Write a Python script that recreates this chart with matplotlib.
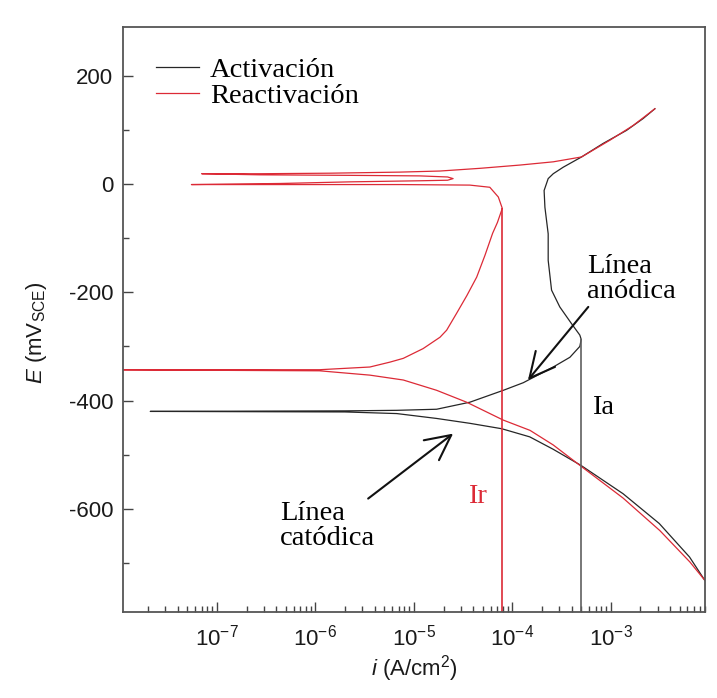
import matplotlib
matplotlib.use("Agg")
import matplotlib.pyplot as plt
from matplotlib.ticker import LogLocator, MultipleLocator

plt.rcParams['font.family'] = ['Liberation Sans', 'DejaVu Sans']
plt.rcParams['mathtext.fontset'] = 'custom'
plt.rcParams['mathtext.rm'] = 'Liberation Sans'
plt.rcParams['mathtext.it'] = 'Liberation Sans:italic'
plt.rcParams['axes.unicode_minus'] = False

# Curva de activacion (barrido catodico -> anodico)
act_i = [9.0e-3, 6.3e-3, 3.1e-3, 1.33e-3, 5.0e-4, 2.6e-4, 1.5e-4, 7.8e-5, 3.7e-5,
         1.7e-5, 6.7e-6, 2.0e-6, 2.1e-8, 2.0e-6, 6.7e-6, 1.7e-5, 3.7e-5, 8.1e-5,
         1.29e-4, 2.6e-4, 3.84e-4, 4.84e-4, 5.0e-4, 4.84e-4, 3.99e-4, 3.03e-4,
         2.5e-4, 2.31e-4, 2.31e-4, 2.14e-4, 2.1e-4, 2.31e-4, 2.6e-4, 3.28e-4,
         5.04e-4, 8.36e-4, 1.44e-3, 2.13e-3, 2.8e-3]
act_E = [-732, -689, -627, -572, -520, -490, -467, -452, -442,
         -433, -424, -421, -420, -419, -418, -416, -403, -381,
         -367, -338, -320, -300, -287, -279, -258, -227,
         -196, -141, -92, -43, -12, 10, 19, 31,
         50, 75, 99, 121, 139]

# Curva de reactivacion (barrido de retorno)
react_i = [2.8e-3, 1.68e-3, 9.8e-4, 5.04e-4, 2.6e-4, 1.19e-4, 4.7e-5, 1.84e-5,
           7.2e-6, 1.4e-6, 2.7e-7, 7.0e-8, 2.7e-7, 2.24e-6, 1.15e-5, 2.2e-5,
           2.5e-5, 2.2e-5, 1.15e-5, 2.24e-6, 4.4e-7, 5.5e-8, 4.4e-7, 7.2e-6,
           3.7e-5, 5.9e-5, 7.2e-5, 7.9e-5, 7.05e-5, 6.3e-5, 5.26e-5, 4.34e-5,
           3.45e-5, 2.71e-5, 2.15e-5, 1.84e-5, 1.24e-5, 7.8e-6, 5.7e-6, 3.57e-6,
           1.1e-6, 5e-9, 1.1e-6, 3.57e-6, 7.8e-6, 1.7e-5, 3.43e-5, 5.47e-5,
           8.07e-5, 1.51e-4, 2.6e-4, 5.04e-4, 1.33e-3, 3.14e-3, 6.34e-3, 9.0e-3]
react_E = [139, 108, 81, 50, 41, 35, 29, 24,
           22, 20, 19, 19, 17, 16, 15, 13,
           10, 7, 6, 4, 1, -1, -1, -1,
           -2, -6, -24, -45, -71, -91, -132, -172,
           -206, -239, -270, -283, -304, -322, -329, -338,
           -343, -343, -345, -353, -362, -381, -403, -421,
           -436, -455, -482, -522, -580, -640, -698, -732]

# Corrientes de pico
Ia, Ea = 5.0e-4, -287
Ir, Er = 7.9e-5, -45

red = '#dc2a36'
serif = ['Liberation Serif', 'DejaVu Serif']

fig = plt.figure(figsize=(7.17, 6.98), dpi=100)
ax = fig.add_axes([0.1715, 0.1236, 0.8115, 0.8377])

ax.plot(act_i, act_E, color='#262626', lw=0.9, label='Activación')
ax.plot(react_i, react_E, color=red, lw=0.9, label='Reactivación')

ymin, ymax = -790, 290
ax.vlines(Ia, ymin, Ea, color='#606060', lw=1.2)
ax.vlines(Ir, ymin, Er, color=red, lw=1.2)

ax.set_xscale('log')
ax.set_xlim(1.11e-8, 9.0e-3)
ax.set_ylim(ymin, ymax)
ax.yaxis.set_major_locator(MultipleLocator(200))
ax.yaxis.set_minor_locator(MultipleLocator(100))
ax.xaxis.set_major_locator(LogLocator(base=10, numticks=20))
ax.xaxis.set_minor_locator(LogLocator(base=10, subs=range(2, 10), numticks=20))

ax.tick_params(which='both', direction='in', color='#444444', labelcolor='#1a1a1a',
               labelsize=16, width=1.0)
ax.tick_params(which='major', length=7, pad=9)
ax.tick_params(which='minor', length=4)
ax.tick_params(axis='y', pad=7)
for s in ax.spines.values():
    s.set_color('#555555')
    s.set_linewidth(1.3)

ax.set_xlabel(r'$\it{i}$ (A/cm$^2$)', fontsize=16, color='#1a1a1a', labelpad=2)
ax.set_ylabel(r'$\it{E}$ (mV$_{\rm SCE}$)', fontsize=16, color='#1a1a1a')
ax.yaxis.set_label_coords(-0.127, 0.478)

ax.legend(loc='upper left', frameon=False, prop={'family': serif, 'size': 20.5},
          handlelength=1.48, handletextpad=0.39, labelspacing=0.0,
          borderaxespad=0.0, bbox_to_anchor=(0.038, 0.968))

ax.text(5.7e-4, -176, 'Línea\nanódica', family=serif, fontsize=20.5,
        va='center', ha='left', linespacing=1.0)
ax.text(4.4e-7, -632, 'Línea\ncatódica', family=serif, fontsize=20.5,
        va='center', ha='left', linespacing=1.0)
ax.text(4.42e-5, -577, 'Ir', family=serif, fontsize=20.5, color=red,
        va='center', ha='center')
ax.text(8.3e-4, -413, 'Ia', family=serif, fontsize=20.5,
        va='center', ha='center')

arrow = dict(arrowstyle='->,head_length=0.9,head_width=0.45', color='#111111',
             lw=1.5, mutation_scale=20, shrinkA=0, shrinkB=0)
ax.annotate('', xy=(1.44e-4, -362), xytext=(5.9e-4, -227), arrowprops=arrow)
ax.annotate('', xy=(2.5e-5, -461), xytext=(3.43e-6, -581), arrowprops=arrow)

fig.savefig('out.png', dpi=100)
